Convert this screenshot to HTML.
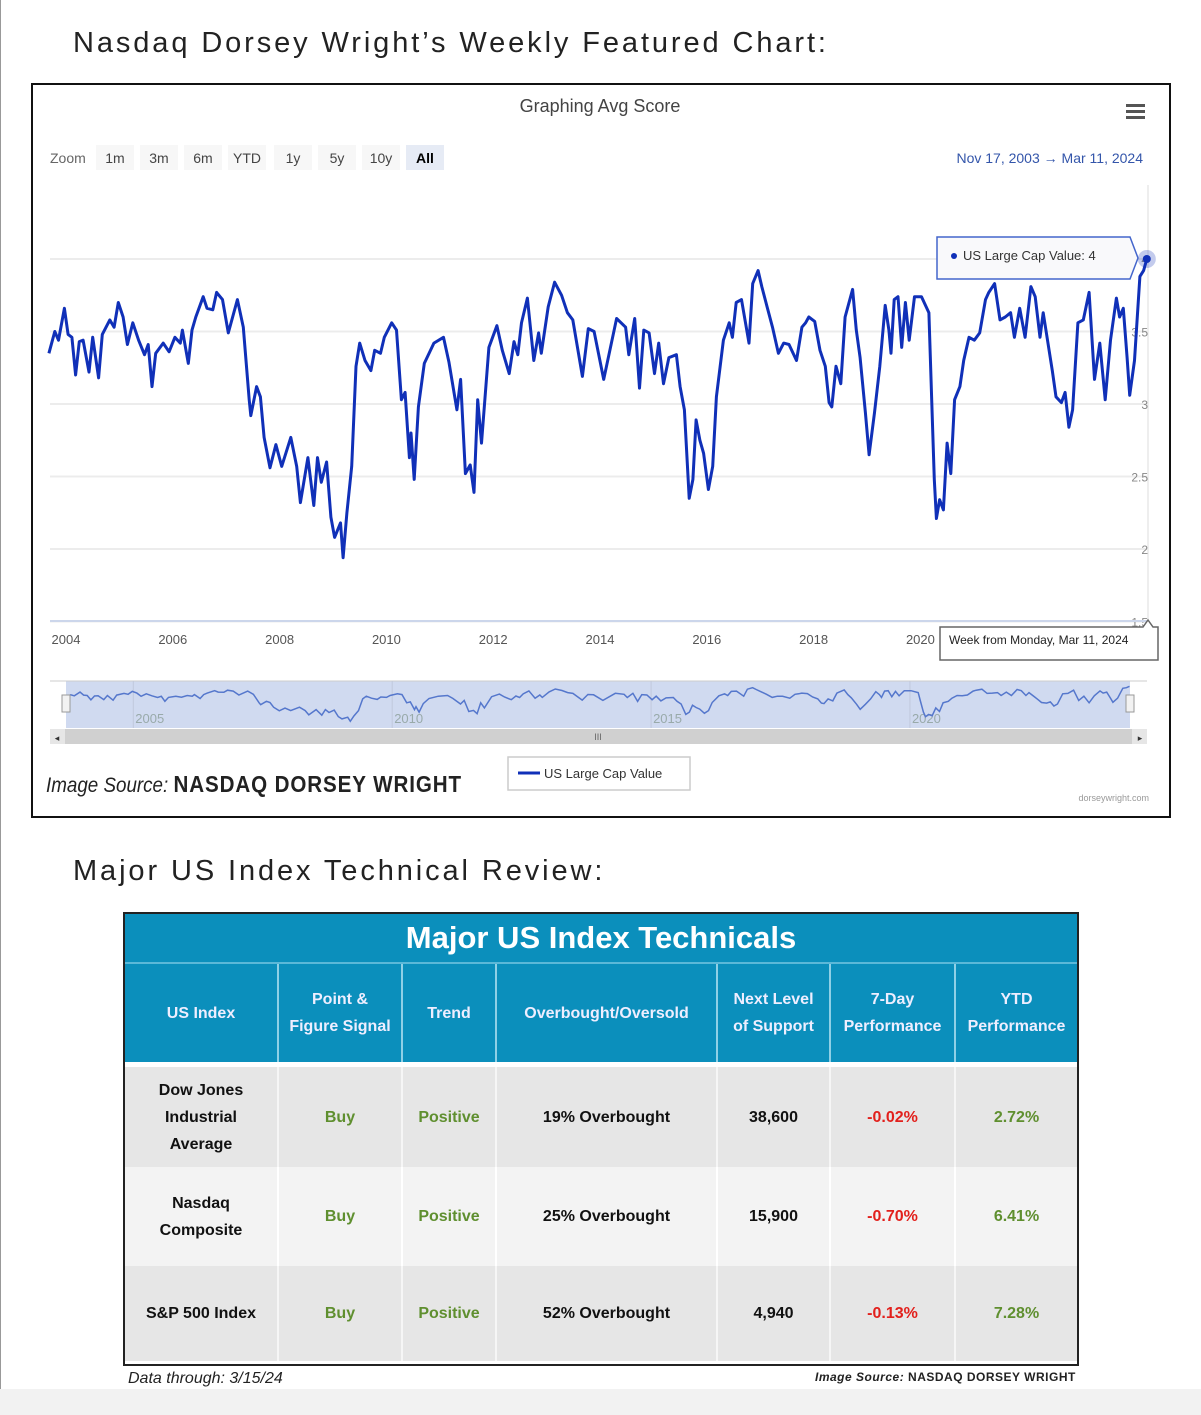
<!DOCTYPE html>
<html><head><meta charset="utf-8">
<style>
html,body{margin:0;padding:0;background:#fff;}
body{width:1201px;height:1415px;position:relative;overflow:hidden;font-family:"Liberation Sans",sans-serif;}
.abs{position:absolute;}
.h{font-size:29px;color:#222;letter-spacing:2.9px;}
table{border-collapse:collapse;table-layout:fixed;}
</style></head><body>
<div class="abs" style="left:0;top:0;width:1px;height:1390px;background:#999"></div>
<div class="abs" style="left:0;top:1389px;width:1201px;height:26px;background:#f2f2f2"></div>

<div class="abs h" style="left:73px;top:27px;">Nasdaq Dorsey Wright’s Weekly Featured Chart:</div>

<div class="abs" style="left:31px;top:83px;width:1136px;height:731px;border:2px solid #111;background:#fff"></div>

<svg class="abs" id="chart" style="left:0;top:0" width="1201" height="830" xmlns="http://www.w3.org/2000/svg" font-family="Liberation Sans, sans-serif"></svg>

<div class="abs h" style="left:73px;top:855px;">Major US Index Technical Review:</div>

<div class="abs" style="left:123px;top:912px;width:952px;height:450px;border:2px solid #222;background:#fff">
<table style="width:952px;font-weight:bold;font-size:16px;text-align:center;color:#111">
<colgroup><col style="width:153px"><col style="width:124px"><col style="width:94px"><col style="width:221px"><col style="width:113px"><col style="width:125px"><col style="width:122px"></colgroup>
<tr><td colspan="7" style="background:#0b8fbc;color:#fff;font-size:31px;height:48px;padding:0;border-bottom:2px solid #5bb8d8">Major US Index Technicals</td></tr>
<tr style="background:#0b8fbc;color:#eef;height:99px;font-size:16px;line-height:27px">
<td style="border-right:2px solid #8fd0e6;padding:0">US Index</td>
<td style="border-right:2px solid #8fd0e6;padding:0">Point &amp;<br>Figure Signal</td>
<td style="border-right:2px solid #8fd0e6;padding:0">Trend</td>
<td style="border-right:2px solid #8fd0e6;padding:0">Overbought/Oversold</td>
<td style="border-right:2px solid #8fd0e6;padding:0">Next Level<br>of Support</td>
<td style="border-right:2px solid #8fd0e6;padding:0">7-Day<br>Performance</td>
<td style="padding:0">YTD<br>Performance</td></tr>
<tr style="height:5px;background:#fff"><td colspan="7" style="padding:0"></td></tr>
<tr style="background:#e6e6e6;height:100px;line-height:27px">
<td style="border-right:2px solid #f6f6f6">Dow Jones<br>Industrial<br>Average</td><td style="color:#5f8f2f;border-right:2px solid #f6f6f6">Buy</td><td style="color:#5f8f2f;border-right:2px solid #f6f6f6">Positive</td><td style="border-right:2px solid #f6f6f6">19% Overbought</td><td style="border-right:2px solid #f6f6f6">38,600</td><td style="color:#e2201c;border-right:2px solid #f6f6f6">-0.02%</td><td style="color:#5f8f2f">2.72%</td></tr>
<tr style="background:#f3f3f3;height:99px;line-height:27px">
<td style="border-right:2px solid #fff">Nasdaq<br>Composite</td><td style="color:#5f8f2f;border-right:2px solid #fff">Buy</td><td style="color:#5f8f2f;border-right:2px solid #fff">Positive</td><td style="border-right:2px solid #fff">25% Overbought</td><td style="border-right:2px solid #fff">15,900</td><td style="color:#e2201c;border-right:2px solid #fff">-0.70%</td><td style="color:#5f8f2f">6.41%</td></tr>
<tr style="background:#e6e6e6;height:95px">
<td style="border-right:2px solid #f6f6f6">S&amp;P 500 Index</td><td style="color:#5f8f2f;border-right:2px solid #f6f6f6">Buy</td><td style="color:#5f8f2f;border-right:2px solid #f6f6f6">Positive</td><td style="border-right:2px solid #f6f6f6">52% Overbought</td><td style="border-right:2px solid #f6f6f6">4,940</td><td style="color:#e2201c;border-right:2px solid #f6f6f6">-0.13%</td><td style="color:#5f8f2f">7.28%</td></tr>
</table></div>
<div class="abs" style="left:128px;top:1370px;font-size:16px;font-style:italic;color:#222">Data through: 3/15/24</div>
<div class="abs" style="left:815px;top:1370px;font-size:12px;font-weight:bold;color:#222;letter-spacing:0.5px"><i>Image Source:</i> NASDAQ DORSEY WRIGHT</div>

<script>
const years = [2003.68,2003.79,2003.86,2003.97,2004.04,2004.11,2004.18,2004.25,2004.32,2004.43,2004.50,2004.61,2004.68,2004.82,2004.90,2004.98,2005.07,2005.15,2005.25,2005.36,2005.47,2005.54,2005.61,2005.68,2005.82,2005.93,2006.04,2006.14,2006.18,2006.29,2006.36,2006.43,2006.57,2006.64,2006.75,2006.82,2006.93,2007.04,2007.21,2007.32,2007.43,2007.46,2007.57,2007.64,2007.71,2007.82,2007.93,2008.04,2008.21,2008.32,2008.39,2008.53,2008.64,2008.71,2008.78,2008.88,2008.96,2009.03,2009.14,2009.19,2009.26,2009.35,2009.43,2009.50,2009.60,2009.71,2009.78,2009.89,2009.96,2010.10,2010.19,2010.28,2010.35,2010.43,2010.46,2010.52,2010.60,2010.71,2010.89,2011.07,2011.17,2011.32,2011.39,2011.48,2011.57,2011.64,2011.71,2011.78,2011.92,2012.07,2012.17,2012.30,2012.39,2012.46,2012.53,2012.64,2012.76,2012.85,2012.90,2013.03,2013.15,2013.28,2013.39,2013.49,2013.67,2013.78,2013.89,2014.07,2014.31,2014.48,2014.54,2014.65,2014.74,2014.82,2014.92,2015.02,2015.10,2015.19,2015.29,2015.43,2015.50,2015.58,2015.67,2015.74,2015.80,2015.87,2015.94,2016.03,2016.11,2016.18,2016.31,2016.42,2016.48,2016.55,2016.65,2016.79,2016.86,2016.96,2017.03,2017.13,2017.23,2017.34,2017.44,2017.54,2017.68,2017.78,2017.85,2017.91,2018.02,2018.12,2018.22,2018.29,2018.34,2018.42,2018.51,2018.59,2018.73,2018.80,2018.87,2018.97,2019.04,2019.14,2019.24,2019.34,2019.41,2019.45,2019.51,2019.58,2019.65,2019.72,2019.79,2019.89,2020.02,2020.16,2020.21,2020.26,2020.30,2020.36,2020.43,2020.50,2020.57,2020.64,2020.74,2020.81,2020.91,2021.01,2021.11,2021.22,2021.28,2021.39,2021.49,2021.59,2021.69,2021.76,2021.86,2021.96,2022.07,2022.15,2022.24,2022.30,2022.41,2022.47,2022.54,2022.64,2022.71,2022.78,2022.85,2022.95,2023.05,2023.16,2023.26,2023.36,2023.46,2023.56,2023.67,2023.73,2023.80,2023.87,2023.92,2024.01,2024.11,2024.18,2024.24];
const scores = [3.35,3.50,3.44,3.66,3.48,3.46,3.20,3.43,3.44,3.22,3.46,3.18,3.48,3.58,3.53,3.70,3.60,3.41,3.56,3.44,3.34,3.41,3.12,3.35,3.42,3.36,3.46,3.42,3.51,3.28,3.51,3.60,3.74,3.66,3.65,3.77,3.72,3.49,3.72,3.53,3.03,2.92,3.12,3.05,2.77,2.56,2.72,2.57,2.77,2.57,2.32,2.63,2.30,2.63,2.46,2.60,2.22,2.08,2.18,1.94,2.25,2.57,3.26,3.42,3.30,3.23,3.37,3.35,3.46,3.56,3.51,3.03,3.08,2.63,2.80,2.48,2.98,3.28,3.42,3.46,3.29,2.96,3.17,2.52,2.58,2.39,3.03,2.73,3.39,3.54,3.37,3.21,3.43,3.34,3.56,3.73,3.30,3.49,3.35,3.67,3.84,3.75,3.63,3.58,3.19,3.52,3.50,3.17,3.59,3.53,3.34,3.59,3.11,3.51,3.49,3.21,3.42,3.14,3.32,3.34,3.12,2.96,2.35,2.48,2.89,2.75,2.66,2.41,2.57,3.05,3.44,3.56,3.46,3.70,3.72,3.42,3.83,3.92,3.81,3.67,3.53,3.35,3.42,3.41,3.30,3.53,3.56,3.60,3.57,3.37,3.26,3.01,2.98,3.26,3.14,3.60,3.79,3.51,3.32,2.94,2.65,2.94,3.26,3.68,3.51,3.35,3.72,3.74,3.39,3.70,3.44,3.74,3.74,3.63,3.05,2.48,2.21,2.34,2.27,2.73,2.52,3.03,3.12,3.30,3.46,3.44,3.49,3.72,3.77,3.83,3.58,3.60,3.63,3.46,3.66,3.46,3.81,3.74,3.46,3.63,3.37,3.23,3.05,3.01,3.08,2.84,2.96,3.56,3.58,3.77,3.17,3.42,3.03,3.44,3.73,3.60,3.66,3.32,3.06,3.30,3.88,3.92,4.00];
const yTicks = [1.5,2,2.5,3,3.5,4];
const yTickLabels = ["1.5","2","2.5","3","3.5","4"];
const xTicks = [2004,2006,2008,2010,2012,2014,2016,2018,2020];
const navTicks = [2005,2010,2015,2020];
const zoomLabels = ["1m","3m","6m","YTD","1y","5y","10y","All"];

const svg = document.getElementById('chart');
const NS = 'http://www.w3.org/2000/svg';
function xScale(yr){return 66 + (yr-2004)*53.4;}
function yScale(v){return 259 + (4-v)*145;}
function navY(v){return 722 - (v-1.9)*17;}
function mk(tag, attrs, text){const e=document.createElementNS(NS,tag);for(const k in attrs)e.setAttribute(k,attrs[k]);if(text!==undefined)e.textContent=text;svg.appendChild(e);return e;}

let t;
t = mk('text',{x:600,y:112,'text-anchor':'middle','font-size':18,fill:'#444'},'Graphing Avg Score');


const menu = mk('g',{});


[104,110,116].forEach(y=>{const r=document.createElementNS(NS,'rect');r.setAttribute('x',1126);r.setAttribute('y',y);r.setAttribute('width',19);r.setAttribute('height',3);r.setAttribute('fill','#555');menu.appendChild(r);});

t = mk('text',{x:50,y:163,'font-size':14,fill:'#666'},'Zoom');


const zx=[96,140,184,228,274,318,362,406];const zw=[38,38,38,38,38,38,38,38];
zoomLabels.forEach((lb,i)=>{
  const g=mk('g',{});
  
  
  const r=document.createElementNS(NS,'rect');r.setAttribute('x',zx[i]);r.setAttribute('y',145);r.setAttribute('width',zw[i]);r.setAttribute('height',25);r.setAttribute('fill',i===7?'#e6ebf5':'#f7f7f7');g.appendChild(r);
  const tx=document.createElementNS(NS,'text');tx.setAttribute('x',zx[i]+zw[i]/2);tx.setAttribute('y',163);tx.setAttribute('text-anchor','middle');tx.setAttribute('font-size',14);tx.setAttribute('fill',i===7?'#000':'#444');if(i===7)tx.setAttribute('font-weight','bold');tx.textContent=lb;g.appendChild(tx);
});
t = mk('text',{x:1143,y:163,'text-anchor':'end','font-size':14,fill:'#3355aa'},'Nov 17, 2003   →   Mar 11, 2024');


t.setAttribute('xml:space','preserve');

yTicks.forEach((v,i)=>{
  const l=mk('line',{x1:50,x2:1147,y1:yScale(v),y2:yScale(v),stroke:'#ececec','stroke-width':2});
  
  
  const tx=mk('text',{x:1148,y:yScale(v)+5,'text-anchor':'end','font-size':12,fill:'#888'},yTickLabels[i]);
  
  
});
t = mk('line',{x1:1148,x2:1148,y1:185,y2:621,stroke:'#ddd','stroke-width':1});


t = mk('line',{x1:50,x2:1147,y1:621,y2:621,stroke:'#ccd6eb','stroke-width':2});


xTicks.forEach(yr=>{
  const tx=mk('text',{x:xScale(yr),y:644,'text-anchor':'middle','font-size':13,fill:'#555'},String(yr));
  
  
});

let d='';years.forEach((yr,i)=>{d+=(i?'L':'M')+xScale(yr).toFixed(1)+','+yScale(scores[i]).toFixed(1);});
t = mk('path',{d:d,fill:'none',stroke:'#1030b8','stroke-width':3,'stroke-linejoin':'round'});


const lastX=xScale(years[years.length-1]), lastY=yScale(scores[scores.length-1]);
t = mk('circle',{cx:lastX,cy:lastY,r:9,fill:'#1030b8','fill-opacity':0.25});


t = mk('circle',{cx:lastX,cy:lastY,r:4,fill:'#1030b8'});



const tip=mk('g',{});


[['path',{d:'M937,237 H1130 L1138,258 L1130,279 H937 Z',fill:'#f9f9fb',stroke:'#4466cc','stroke-width':1.5}],['circle',{cx:954,cy:256,r:3,fill:'#1030b8'}],['text',{x:963,y:260,'font-size':13,fill:'#333'},'US Large Cap Value: 4']].forEach(s=>{const e=document.createElementNS(NS,s[0]);for(const k in s[1])e.setAttribute(k,s[1][k]);if(s[2])e.textContent=s[2];tip.appendChild(e);});
const tip2=mk('g',{});


[['path',{d:'M940,627 H1143 L1148,620 L1153,627 H1158 V660 H940 Z',fill:'#fff',stroke:'#666','stroke-width':1.5}],['text',{x:949,y:644,'font-size':12,fill:'#222'},'Week from Monday, Mar 11, 2024']].forEach(s=>{const e=document.createElementNS(NS,s[0]);for(const k in s[1])e.setAttribute(k,s[1][k]);if(s[2])e.textContent=s[2];tip2.appendChild(e);});

t = mk('rect',{x:66,y:681,width:1064,height:47,fill:'#d0daf0'});


t = mk('line',{x1:50,x2:1147,y1:681,y2:681,stroke:'#ccc','stroke-width':1});
navTicks.forEach(yr=>{
  const x=66+(yr-2003.7)*(1064/20.55);
  const l=mk('line',{x1:x,x2:x,y1:681,y2:728,stroke:'#c0c8dc','stroke-width':1});
  
  
  const tx=mk('text',{x:x+2,y:723,'font-size':13,fill:'#9aa'},String(yr));
  
  
});
let nd='';years.forEach((yr,i)=>{nd+=(i?'L':'M')+(66+(yr-2003.7)*(1064/20.55)).toFixed(1)+','+navY(scores[i]).toFixed(1);});
t = mk('path',{d:nd,fill:'none',stroke:'#5577cc','stroke-width':1.5});


[62,1126].forEach((x,i)=>{
  const h=mk('rect',{x:x,y:695,width:8,height:17,fill:'#f2f2f2',stroke:'#999'});
  
  
});
t = mk('rect',{x:50,y:729,width:1097,height:15,fill:'#d0d0d0'});


t = mk('rect',{x:50,y:729,width:15,height:15,fill:'#e6e6e6'});


t = mk('rect',{x:1132,y:729,width:15,height:15,fill:'#e6e6e6'});


mk('text',{x:57,y:741,'text-anchor':'middle','font-size':9,fill:'#333'},'◂');
mk('text',{x:1140,y:741,'text-anchor':'middle','font-size':9,fill:'#333'},'▸');
mk('text',{x:598,y:740,'text-anchor':'middle','font-size':9,fill:'#666'},'III');

const lg=mk('g',{});


[['rect',{x:508,y:757,width:182,height:33,fill:'#fff',stroke:'#ccc','stroke-width':1.5}],['line',{x1:518,x2:540,y1:773,y2:773,stroke:'#1030b8','stroke-width':3}],['text',{x:544,y:778,'font-size':13,fill:'#333'},'US Large Cap Value']].forEach(s=>{const e=document.createElementNS(NS,s[0]);for(const k in s[1])e.setAttribute(k,s[1][k]);if(s[2])e.textContent=s[2];lg.appendChild(e);});

t = mk('text',{x:46,y:792,'font-size':23,fill:'#222',textLength:416,lengthAdjust:'spacingAndGlyphs'});


t.innerHTML='<tspan font-style="italic" font-size="21">Image Source: </tspan><tspan font-weight="bold" letter-spacing="1">NASDAQ DORSEY WRIGHT</tspan>';
t = mk('text',{x:1149,y:801,'text-anchor':'end','font-size':9,fill:'#999'},'dorseywright.com');


</script>
</body></html>
